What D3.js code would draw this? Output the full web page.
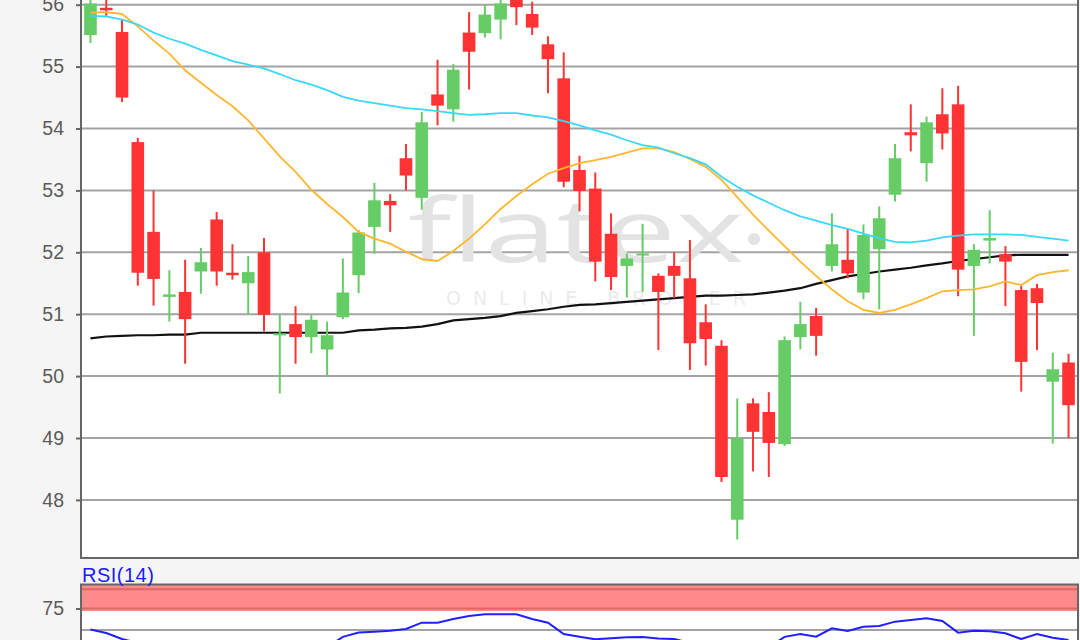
<!DOCTYPE html>
<html>
<head>
<meta charset="utf-8">
<script src="https://cdn.jsdelivr.net/npm/d3@7"></script>
<style>
html,body{margin:0;padding:0;background:#f5f5f5;}
svg{display:block;}
</style>
</head>
<body>
<svg id="chart" width="1080" height="640"></svg>
<script>
// ---------- data ----------
const opens  = [55.51,55.95,55.56,53.78,52.33,51.28,51.36,51.69,52.53,51.67,51.50,52.00,50.66,50.84,50.63,50.43,50.95,51.63,52.41,52.83,53.52,52.88,54.55,54.31,55.55,55.54,55.76,56.10,55.85,55.36,54.81,53.33,53.03,52.30,51.78,51.96,51.62,51.78,51.58,50.87,50.49,47.68,49.56,49.42,48.90,50.63,50.97,51.78,51.88,51.35,52.05,52.93,53.94,53.44,54.23,54.39,51.78,52.19,51.97,51.39,51.42,49.91,50.22];
const highs  = [56.20,56.10,55.76,53.85,53.00,51.71,51.88,52.07,52.65,52.13,51.94,52.23,50.99,51.13,50.99,50.88,51.90,52.36,53.12,52.94,53.75,54.27,55.11,55.04,55.88,56.00,56.15,56.20,56.05,55.49,55.23,53.56,53.29,52.63,51.98,52.46,51.66,52.00,52.20,51.16,50.58,49.64,49.64,49.74,50.64,51.20,51.10,52.63,52.39,52.45,52.74,53.75,54.39,54.19,54.65,54.69,52.13,52.68,52.10,51.46,51.49,50.38,50.36];
const lows   = [55.38,55.82,54.43,51.46,51.14,50.88,50.20,51.33,51.46,51.56,50.99,50.72,49.72,50.20,50.37,50.00,50.92,51.34,51.98,52.33,53.00,52.69,54.05,54.11,54.63,55.47,55.44,55.67,55.51,54.57,53.05,52.66,51.53,51.39,51.27,51.36,50.42,51.26,50.10,50.17,48.29,47.36,48.46,48.37,48.87,50.43,50.33,51.69,51.58,51.24,51.08,52.82,53.63,53.14,53.66,51.29,50.65,51.82,51.13,49.75,50.42,48.91,49.00];
const closes = [56.02,55.91,54.50,51.67,51.57,51.32,50.92,51.84,51.69,51.63,51.68,50.99,50.69,50.63,50.91,50.66,51.35,52.32,52.84,52.76,53.24,54.10,54.37,54.95,55.24,55.84,56.02,55.96,55.63,55.12,53.14,52.99,51.85,51.60,51.90,51.98,51.36,51.62,50.53,50.60,48.37,49.00,49.10,48.92,50.58,50.84,50.65,52.13,51.66,52.28,52.55,53.52,53.89,54.10,53.92,51.72,52.04,52.23,51.85,50.23,51.18,50.11,49.53];

const maShort = [55.87,55.88,55.85,55.65,55.42,55.21,54.94,54.74,54.54,54.36,54.13,53.84,53.55,53.30,53.01,52.78,52.57,52.33,52.22,52.14,52.01,51.89,51.86,52.02,52.22,52.45,52.70,52.91,53.10,53.27,53.36,53.44,53.49,53.54,53.61,53.68,53.68,53.62,53.51,53.38,53.17,52.89,52.61,52.35,52.10,51.85,51.62,51.40,51.21,51.07,51.02,51.07,51.16,51.26,51.37,51.39,51.40,51.45,51.53,51.47,51.63,51.68,51.71];
const maMid   = [55.82,55.81,55.76,55.68,55.55,55.45,55.37,55.27,55.18,55.09,55.03,54.97,54.88,54.78,54.71,54.62,54.51,54.45,54.41,54.37,54.33,54.31,54.28,54.25,54.22,54.23,54.25,54.25,54.21,54.18,54.12,54.05,53.97,53.90,53.81,53.73,53.69,53.60,53.52,53.42,53.22,53.06,52.92,52.80,52.68,52.58,52.51,52.44,52.38,52.30,52.23,52.17,52.16,52.19,52.24,52.27,52.29,52.29,52.29,52.28,52.25,52.22,52.19];
const maLong  = [50.61,50.64,50.65,50.66,50.66,50.67,50.67,50.70,50.70,50.70,50.70,50.70,50.70,50.70,50.70,50.70,50.70,50.74,50.75,50.77,50.78,50.80,50.84,50.90,50.92,50.94,50.97,51.02,51.05,51.08,51.12,51.15,51.16,51.18,51.20,51.22,51.24,51.26,51.28,51.30,51.30,51.31,51.32,51.35,51.38,51.42,51.49,51.55,51.61,51.65,51.69,51.72,51.75,51.79,51.82,51.86,51.89,51.92,51.95,51.96,51.96,51.96,51.96];

const rsiValues = [50.6,46.5,39.5,35,33,32,30,31,29,29,30,27,26,26,28,30,42,47,48,49.2,51.2,58.5,58.5,62.8,66.3,68.3,68.3,68.3,62.8,58.5,45.3,42.2,39.2,40.5,41.5,41.8,40,39.5,35,33,26,33,32,30,42,45.3,42.2,52,48.8,53.8,54.7,59.7,61.6,63.6,60.5,46.9,49.2,48.5,46.2,39.5,45.3,41,38.4];

const priceTicks = [48,49,50,51,52,53,54,55,56];
const rsiTicks = [75];
const rsiGridLevels = [50,75];
const rsiBandLevels = [72,103];      // filled zone
const rsiBandLines  = [75,97.5];     // darker edge lines
const rsiLabel = "RSI(14)";
const watermark = "flatex";
const watermarkSub = "ONLINE BROKER";

// ---------- layout ----------
const svg = d3.select("#chart");
const L = 81, R = 1078;
const mainBottom = 558, mainTopPx = -20;
const rsiTop = 584.5;

const idx = d3.range(closes.length);
const x = d3.scaleBand().domain(idx).range([L, R]).padding(0.2);
const cx = i => x(i) + x.bandwidth() / 2;
const y = d3.scaleLinear().domain([48, 56]).range([499.9, 4.7]);
const yr = d3.scaleLinear().domain([0, 100]).range([673, 587]);

const up = "#66cc66", down = "#ff3333";
const gridCol = "#a3a3a3", frameCol = "#666";
const labelFont = "'Liberation Sans', Arial, sans-serif";

// background panels
svg.append("rect").attr("x", 0).attr("y", 0).attr("width", 1080).attr("height", 640).attr("fill", "#f5f5f5");
svg.append("rect").attr("x", L).attr("y", mainTopPx).attr("width", R - L).attr("height", mainBottom - mainTopPx).attr("fill", "#fff");
svg.append("rect").attr("x", L).attr("y", rsiTop).attr("width", R - L).attr("height", 100).attr("fill", "#fff");

const defs = svg.append("defs");
defs.append("clipPath").attr("id", "clipMain").append("rect")
  .attr("x", L).attr("y", mainTopPx).attr("width", R - L).attr("height", mainBottom - mainTopPx);
defs.append("clipPath").attr("id", "clipRsi").append("rect")
  .attr("x", L).attr("y", rsiTop).attr("width", R - L).attr("height", 100);

// ---------- main panel ----------
const main = svg.append("g").attr("clip-path", "url(#clipMain)");

main.selectAll("line.grid").data(priceTicks).join("line")
  .attr("class", "grid")
  .attr("x1", L).attr("x2", R)
  .attr("y1", d => y(d)).attr("y2", d => y(d))
  .attr("stroke", gridCol).attr("stroke-width", 2);

// watermark
const wm = main.append("g");
wm.append("text").text(watermark)
  .attr("x", 408).attr("y", 262)
  .attr("font-family", "'Open Sans', 'DejaVu Sans', sans-serif")
  .attr("font-size", 88).attr("fill", "#e3e3e3")
  .attr("textLength", 336).attr("lengthAdjust", "spacingAndGlyphs");
wm.append("circle").attr("cx", 754).attr("cy", 239).attr("r", 6).attr("fill", "#e3e3e3");
wm.append("text").text(watermarkSub)
  .attr("x", 446).attr("y", 305)
  .attr("font-family", "'DejaVu Sans', sans-serif")
  .attr("font-size", 19).attr("fill", "#ebebeb")
  .attr("textLength", 300).attr("lengthAdjust", "spacing");

// moving averages
const lineGen = arr => d3.line().x((d, i) => cx(i)).y(d => y(d))(arr);
main.append("path").attr("d", lineGen(maLong)).attr("fill", "none").attr("stroke", "#111").attr("stroke-width", 2.2);

// candles
const candles = main.append("g");
const cg = candles.selectAll("g").data(idx).join("g");
cg.append("line")
  .attr("x1", i => cx(i)).attr("x2", i => cx(i))
  .attr("y1", i => y(highs[i])).attr("y2", i => y(lows[i]))
  .attr("stroke", i => closes[i] >= opens[i] ? up : down)
  .attr("stroke-width", 2);
cg.append("rect")
  .attr("x", i => x(i))
  .attr("width", x.bandwidth())
  .attr("y", i => y(Math.max(opens[i], closes[i])))
  .attr("height", i => Math.max(2, Math.abs(y(opens[i]) - y(closes[i]))))
  .attr("fill", i => closes[i] >= opens[i] ? up : down);

main.append("path").attr("d", lineGen(maShort)).attr("fill", "none").attr("stroke", "#ffb62e").attr("stroke-width", 1.8);
main.append("path").attr("d", lineGen(maMid)).attr("fill", "none").attr("stroke", "#3ad8f8").attr("stroke-width", 1.8);

// frame & ticks
svg.append("line").attr("x1", L).attr("x2", L).attr("y1", mainTopPx).attr("y2", mainBottom).attr("stroke", frameCol).attr("stroke-width", 2);
svg.append("line").attr("x1", R).attr("x2", R).attr("y1", mainTopPx).attr("y2", mainBottom).attr("stroke", frameCol).attr("stroke-width", 2);
svg.append("line").attr("x1", L - 1).attr("x2", R + 1).attr("y1", mainBottom).attr("y2", mainBottom).attr("stroke", frameCol).attr("stroke-width", 2);

const yAxis = d3.axisLeft(y).tickValues(priceTicks).tickSize(5).tickPadding(12).tickFormat(d3.format("d"));
const ga = svg.append("g").attr("transform", `translate(${L},0)`).call(yAxis);
ga.select(".domain").remove();
ga.selectAll(".tick line").attr("stroke", frameCol).attr("stroke-width", 2);
ga.selectAll(".tick text").attr("fill", "#5a5a5a").attr("font-size", 19.5).attr("font-family", labelFont);

// ---------- RSI panel ----------
const rsiG = svg.append("g").attr("clip-path", "url(#clipRsi)");
rsiG.append("rect")
  .attr("x", L).attr("width", R - L)
  .attr("y", yr(rsiBandLevels[1])).attr("height", yr(rsiBandLevels[0]) - yr(rsiBandLevels[1]))
  .attr("fill", "#ff8a8a");
rsiG.selectAll("line.band").data(rsiBandLines).join("line")
  .attr("class", "band")
  .attr("x1", L).attr("x2", R).attr("y1", d => yr(d)).attr("y2", d => yr(d))
  .attr("stroke", "#e06666").attr("stroke-width", 2);
rsiG.selectAll("line.grid").data(rsiGridLevels.filter(d => d !== 75)).join("line")
  .attr("class", "grid")
  .attr("x1", L).attr("x2", R).attr("y1", d => yr(d)).attr("y2", d => yr(d))
  .attr("stroke", gridCol).attr("stroke-width", 2);
rsiG.append("path")
  .attr("d", d3.line().x((d, i) => cx(i)).y(d => yr(d))(rsiValues))
  .attr("fill", "none").attr("stroke", "#2020ff").attr("stroke-width", 2);

svg.append("line").attr("x1", L - 1).attr("x2", R + 1).attr("y1", rsiTop).attr("y2", rsiTop).attr("stroke", frameCol).attr("stroke-width", 2);
svg.append("line").attr("x1", L).attr("x2", L).attr("y1", rsiTop).attr("y2", 700).attr("stroke", frameCol).attr("stroke-width", 2);
svg.append("line").attr("x1", R).attr("x2", R).attr("y1", rsiTop).attr("y2", 700).attr("stroke", frameCol).attr("stroke-width", 2);

const rAxis = d3.axisLeft(yr).tickValues(rsiTicks).tickSize(5).tickPadding(12).tickFormat(d3.format("d"));
const gr = svg.append("g").attr("transform", `translate(${L},0)`).call(rAxis);
gr.select(".domain").remove();
gr.selectAll(".tick line").attr("stroke", frameCol).attr("stroke-width", 2);
gr.selectAll(".tick text").attr("fill", "#5a5a5a").attr("font-size", 19.5).attr("font-family", labelFont);

svg.append("text").text(rsiLabel)
  .attr("x", L + 1).attr("y", 582)
  .attr("font-family", labelFont).attr("font-size", 20)
  .attr("letter-spacing", 0.5)
  .attr("fill", "#1a1aff");
</script>
</body>
</html>
